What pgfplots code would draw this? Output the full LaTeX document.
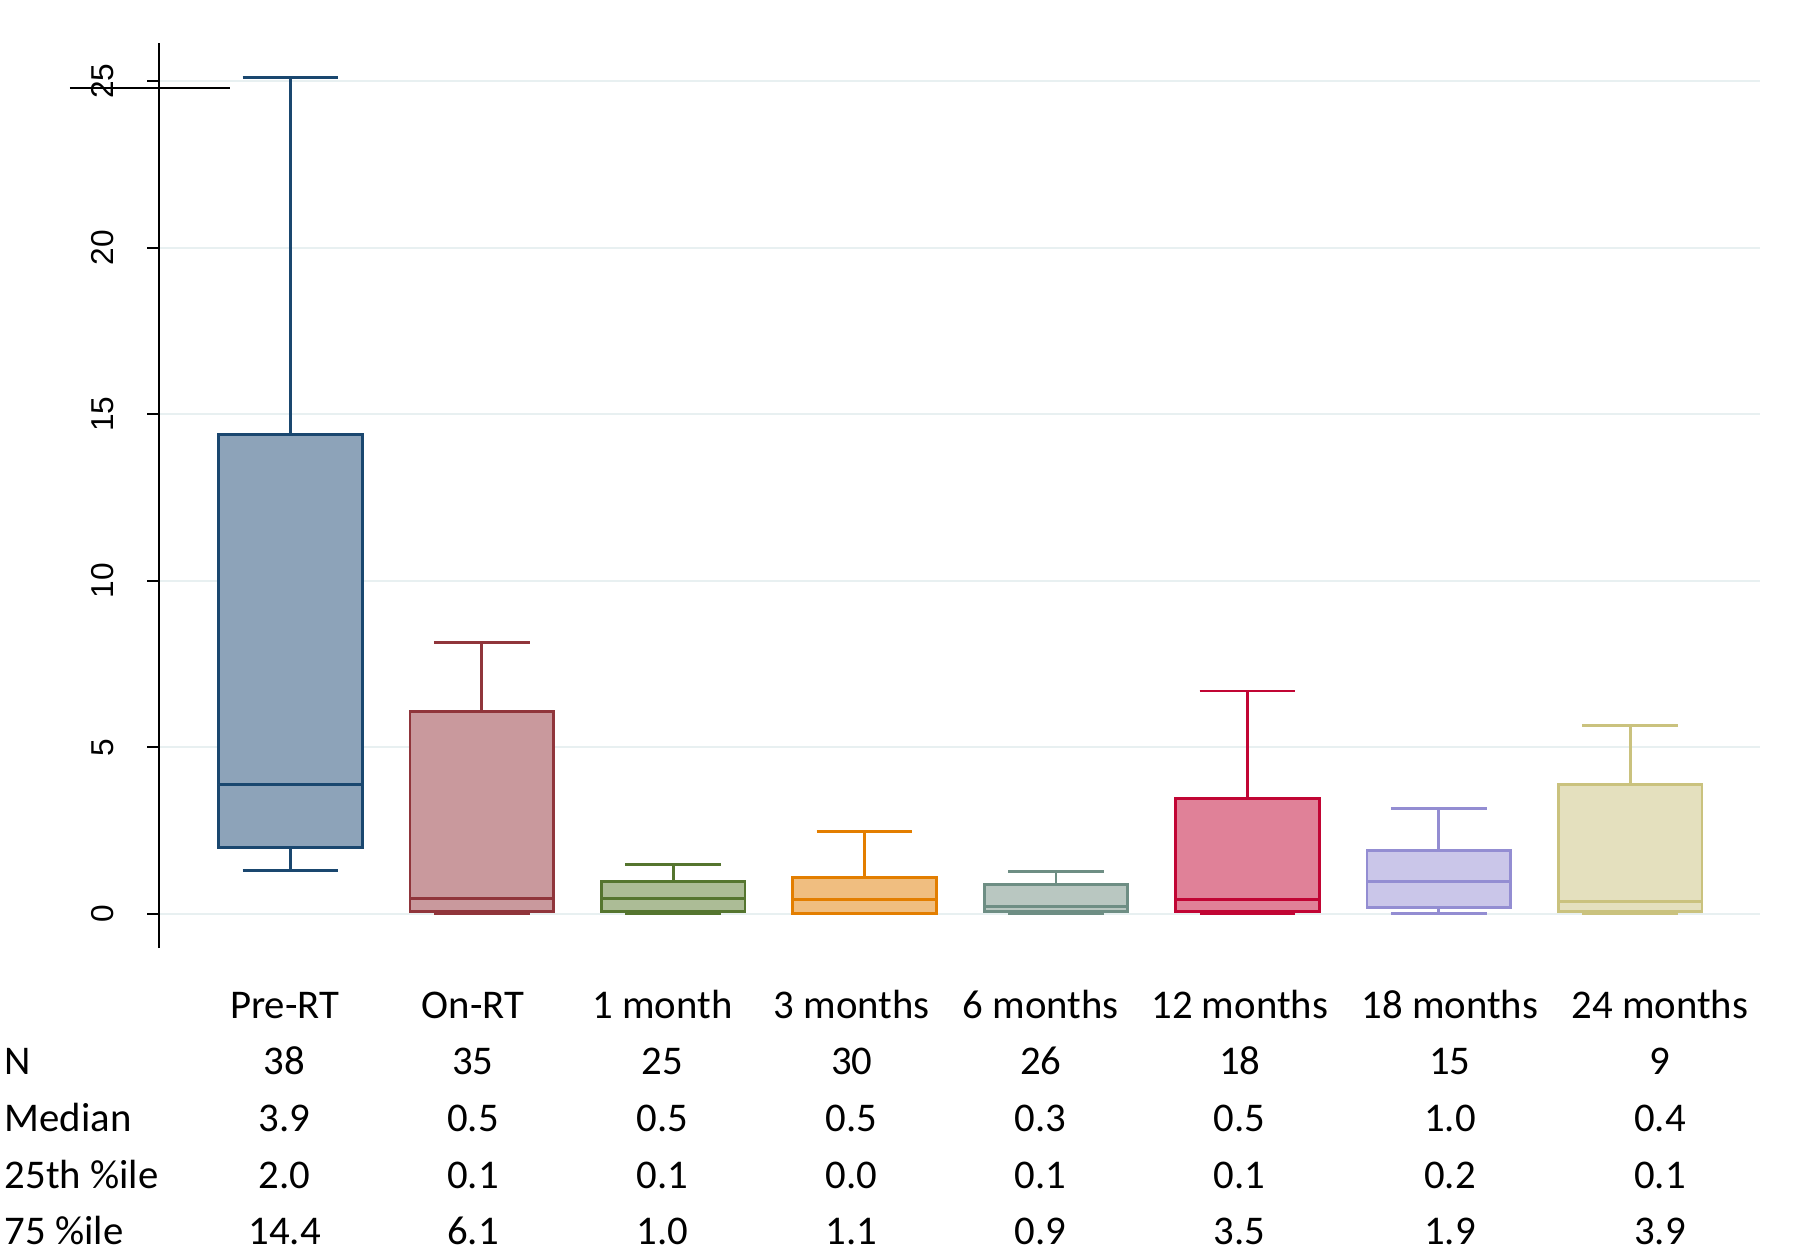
\documentclass[border=0pt]{standalone}
\usepackage{fontspec}
\setmainfont{Carlito}
\newfontfamily\arialfont{Liberation Sans}
\usepackage{pgfplots}
\pgfplotsset{compat=1.18}
\usepgfplotslibrary{statistics}

\definecolor{lnA}{RGB}{26,71,111}   \definecolor{fA}{RGB}{141,163,185}
\definecolor{lnB}{RGB}{144,53,59}   \definecolor{fB}{RGB}{201,153,157}
\definecolor{lnC}{RGB}{85,117,47}   \definecolor{fC}{RGB}{172,188,150}
\definecolor{lnD}{RGB}{227,126,0}   \definecolor{fD}{RGB}{240,190,128}
\definecolor{lnE}{RGB}{110,142,132} \definecolor{fE}{RGB}{185,199,193}
\definecolor{lnF}{RGB}{193,5,52}    \definecolor{fF}{RGB}{224,129,152}
\definecolor{lnG}{RGB}{147,141,210} \definecolor{fG}{RGB}{202,198,233}
\definecolor{lnH}{RGB}{202,194,126} \definecolor{fH}{RGB}{228,224,190}
\definecolor{gridc}{RGB}{232,240,241}

\pgfplotsset{
  bx/.style={line width=0.8pt, solid},
}

\begin{document}
\begin{tikzpicture}[font=\fontsize{11.6}{14}\selectfont]
\begin{axis}[
  x=19.14mm, y=3.33mm,
  xmin=0.316, xmax=8.678, ymin=-1.03, ymax=26.14,
  axis x line=none, axis y line*=left,
  axis line style={black, line width=0.6pt, -},
  xtick=\empty,
  ytick={0,5,10,15,20,25},
  tick align=outside, major tick length=1.2mm,
  tick style={black, line width=0.6pt},
  ymajorgrids, grid style={color=gridc, line width=0.7pt},
  yticklabel style={font=\arialfont\fontsize{9}{10}\selectfont,
    xshift=-3.3mm, rotate=90, anchor=south, inner sep=0pt},
  /pgf/number format/assume math mode=true,
  boxplot/draw direction=y,
  clip=false,
]
% whisker low, Q1, median, Q3, whisker high
\addplot[bx, draw=lnA, fill=fA, boxplot prepared={draw position=1,
  lower whisker=1.29, lower quartile=1.98, median=3.87,
  upper quartile=14.4, upper whisker=25.12, box extend=0.75, whisker extend=0.5}]
  coordinates {};
\addplot[bx, draw=lnB, fill=fB, boxplot prepared={draw position=2,
  lower whisker=0, lower quartile=0.08, median=0.47,
  upper quartile=6.07, upper whisker=8.14, box extend=0.75, whisker extend=0.5}]
  coordinates {};
\addplot[bx, draw=lnC, fill=fC, boxplot prepared={draw position=3,
  lower whisker=0, lower quartile=0.08, median=0.47,
  upper quartile=0.98, upper whisker=1.48, box extend=0.75, whisker extend=0.5}]
  coordinates {};
\addplot[bx, draw=lnD, fill=fD, boxplot prepared={draw position=4,
  lower whisker=0, lower quartile=0.0, median=0.44,
  upper quartile=1.08, upper whisker=2.47, box extend=0.75, whisker extend=0.5}]
  coordinates {};
\addplot[bx, draw=lnE, fill=fE, boxplot prepared={draw position=5,
  lower whisker=0, lower quartile=0.08, median=0.23,
  upper quartile=0.89, upper whisker=1.28, box extend=0.75, whisker extend=0.5}]
  coordinates {};
\addplot[bx, draw=lnF, fill=fF, boxplot prepared={draw position=6,
  lower whisker=0, lower quartile=0.08, median=0.43,
  upper quartile=3.47, upper whisker=6.69, box extend=0.75, whisker extend=0.5}]
  coordinates {};
\addplot[bx, draw=lnG, fill=fG, boxplot prepared={draw position=7,
  lower whisker=0, lower quartile=0.18, median=0.98,
  upper quartile=1.89, upper whisker=3.17, box extend=0.75, whisker extend=0.5}]
  coordinates {};
\addplot[bx, draw=lnH, fill=fH, boxplot prepared={draw position=8,
  lower whisker=0, lower quartile=0.08, median=0.38,
  upper quartile=3.87, upper whisker=5.65, box extend=0.75, whisker extend=0.5}]
  coordinates {};

% stray line across the 25 label
\draw[black, line width=0.6pt] (axis cs:-0.152,24.8) -- (axis cs:0.684,24.8);

% anchors for the table underneath
\coordinate (c1) at (axis cs:0.970,0);
\coordinate (c2) at (axis cs:1.954,0);
\coordinate (c3) at (axis cs:2.944,0);
\coordinate (c4) at (axis cs:3.933,0);
\coordinate (c5) at (axis cs:4.920,0);
\coordinate (c6) at (axis cs:5.960,0);
\coordinate (c7) at (axis cs:7.058,0);
\coordinate (c8) at (axis cs:8.155,0);
\coordinate (r0) at (axis cs:-0.496,-3.13);
\coordinate (r1) at (axis cs:-0.496,-4.84);
\coordinate (r2) at (axis cs:-0.496,-6.54);
\coordinate (r3) at (axis cs:-0.496,-8.25);
\coordinate (r4) at (axis cs:-0.496,-9.94);
\path (axis cs:-0.517,-10.28) rectangle (axis cs:8.887,27.44);
\end{axis}

\node[anchor=base west, inner sep=0pt] at (r1) {N};
\node[anchor=base west, inner sep=0pt] at (r2) {Median};
\node[anchor=base west, inner sep=0pt] at (r3) {25th \%ile};
\node[anchor=base west, inner sep=0pt] at (r4) {75 \%ile};
\foreach \i/\lab/\n/\md/\lo/\hi in {
  1/Pre-RT/38/3.9/2.0/14.4, 2/On-RT/35/0.5/0.1/6.1,
  3/1 month/25/0.5/0.1/1.0, 4/3 months/30/0.5/0.0/1.1,
  5/6 months/26/0.3/0.1/0.9, 6/12 months/18/0.5/0.1/3.5,
  7/18 months/15/1.0/0.2/1.9, 8/24 months/9/0.4/0.1/3.9} {
  \node[anchor=base, inner sep=0pt] at (c\i |- r0) {\lab};
  \node[anchor=base, inner sep=0pt] at (c\i |- r1) {\n};
  \node[anchor=base, inner sep=0pt] at (c\i |- r2) {\md};
  \node[anchor=base, inner sep=0pt] at (c\i |- r3) {\lo};
  \node[anchor=base, inner sep=0pt] at (c\i |- r4) {\hi};
}
\end{tikzpicture}
\end{document}
